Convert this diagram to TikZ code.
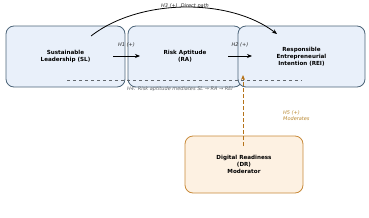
\documentclass[tikz,border=0pt]{standalone}
\usepackage{fontspec}
\setmainfont{DejaVu Sans}
\usepackage{xcolor}
\definecolor{boxLine}{HTML}{4D6579}
\definecolor{boxFill}{HTML}{E9F0FA}
\definecolor{modLine}{HTML}{C88A3A}
\definecolor{modFill}{HTML}{FDF1E2}
\definecolor{modArrow}{HTML}{B5731A}
\definecolor{modText}{HTML}{B8862E}
\definecolor{noteGray}{HTML}{62676C}
\usetikzlibrary{arrows.meta,positioning}
\tikzset{
  constructbox/.style={
    draw=boxLine,
    fill=boxFill,
    rounded corners=8pt,
    line width=0.8pt,
    minimum height=61pt,
    align=center,
    font=\fontsize{5.6}{7}\selectfont\bfseries,
    inner sep=2pt
  },
  moderatorbox/.style={
    draw=modLine,
    fill=modFill,
    rounded corners=8pt,
    line width=0.8pt,
    minimum width=118pt,
    minimum height=57pt,
    align=center,
    font=\fontsize{5.6}{7}\selectfont\bfseries,
    inner sep=2pt
  },
  pathline/.style={
    draw=black,
    -{Stealth[length=5pt,width=4pt]},
    line width=0.8pt
  },
  hyplabel/.style={
    font=\fontsize{5}{6.2}\selectfont\itshape,
    text=black!85,
    inner sep=1pt
  },
  mediateline/.style={
    draw=noteGray,
    dashed,
    line width=0.6pt
  },
  moderateline/.style={
    draw=modArrow,
    dash pattern=on 4pt off 2pt,
    -{Stealth[length=5pt,width=4pt]},
    line width=1pt
  }
}
\begin{document}
\begin{tikzpicture}[x=1pt,y=-1pt]
  \useasboundingbox (0,0) rectangle (369,217);
  \node[constructbox,minimum width=119pt] (sl) at (65.5,56.5) {Sustainable\\Leadership (SL)};
  \node[constructbox,minimum width=114pt] (ra) at (185,56.5) {Risk Aptitude\\(RA)};
  \node[constructbox,minimum width=127pt] (rei) at (301.5,56.5) {Responsible\\Entrepreneurial\\Intention (REI)};
  \node[moderatorbox] (dr) at (244,164.5) {Digital Readiness\\(DR)\\Moderator};
  % path end points
  \coordinate (h1start) at (113,56);
  \coordinate (h1end) at (140,56);
  \coordinate (h2start) at (228,56);
  \coordinate (h2end) at (252,56);
  \coordinate (h3start) at (91,36);
  \coordinate (h3end) at (277,34);
  \coordinate (h4start) at (67,80);
  \coordinate (h4end) at (302,80);
  \coordinate (h5start) at (243,146);
  \coordinate (h5end) at (243,75);
  % direct and indirect paths
  \draw[pathline] (h1start) -- (h1end);
  \node[hyplabel] (h1) at (126.5,45) {H1 (+)};
  \draw[pathline] (h2start) -- (h2end);
  \node[hyplabel] (h2) at (240,45) {H2 (+)};
  \draw[pathline] (h3start) .. controls (140,-2) and (230,-2) .. (h3end);
  \node[hyplabel] (h3) at (185,6) {H3 (+)\ \ Direct path};
  \draw[mediateline] (h4start) -- (h4end);
  \node[hyplabel,text=noteGray,anchor=west] (h4) at (126,89.5) {H4: Risk aptitude mediates SL → RA → REI};
  \draw[moderateline] (h5start) -- (h5end);
  \node[hyplabel,text=modText,align=left,anchor=west] (h5) at (282,116) {H5 (+)\\Moderates};
\end{tikzpicture}
\end{document}
